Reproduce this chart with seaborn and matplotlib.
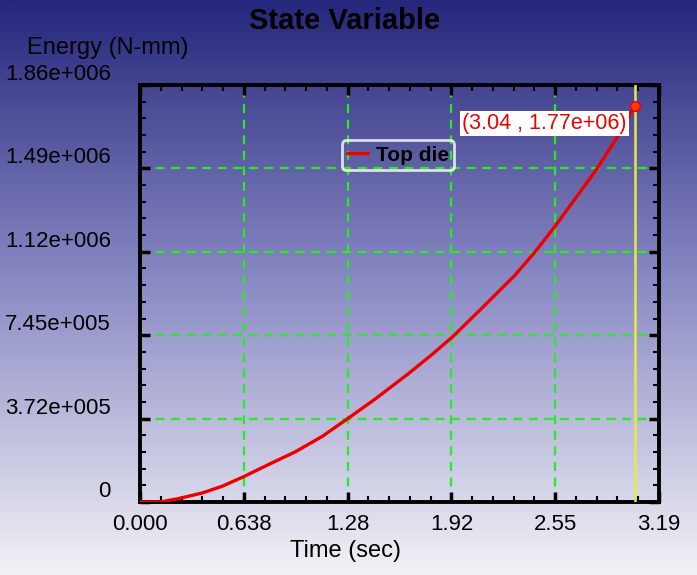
import numpy as np
import matplotlib
matplotlib.use("Agg")
import matplotlib.pyplot as plt
from matplotlib.colors import LinearSegmentedColormap
from matplotlib.ticker import AutoMinorLocator
import seaborn as sns

# --- データ ---
time_sec = [0.0, 0.123, 0.236, 0.381, 0.504, 0.634, 0.792, 0.957, 1.12, 1.276,
            1.44, 1.646, 1.79, 1.92, 2.099, 2.304, 2.428, 2.556, 2.675, 2.809,
            2.901, 2.963, 3.04]
energy = [0.0, 0.0, 15e3, 40e3, 70e3, 112e3, 168e3, 225e3, 293e3, 372e3,
          457e3, 571e3, 656e3, 737e3, 864e3, 1.0125e6, 1.117e6, 1.236e6, 1.355e6, 1.489e6,
          1.593e6, 1.665e6, 1.77e6]
series_name = "Top die"

x_ticks = [0.0, 0.638, 1.276, 1.914, 2.552, 3.19]
x_labels = ["0.000", "0.638", "1.28", "1.92", "2.55", "3.19"]
y_ticks = [0.0, 3.725e5, 7.45e5, 1.1175e6, 1.49e6, 1.8625e6]
y_labels = ["0", "3.72e+005", "7.45e+005", "1.12e+006", "1.49e+006", "1.86e+006"]

probe_t = 3.04
probe_e = 1.77e6
probe_text = "(3.04 , 1.77e+06)"

sns.set_theme(style="ticks")
plt.rcParams['font.family'] = ['Liberation Sans', 'DejaVu Sans']
plt.rcParams['text.color'] = 'black'
plt.rcParams['xtick.color'] = 'black'
plt.rcParams['ytick.color'] = 'black'
plt.rcParams['xtick.labelcolor'] = 'black'
plt.rcParams['ytick.labelcolor'] = 'black'

fig = plt.figure(figsize=(6.97, 5.75), dpi=100)

# 背景グラデーション
bg = fig.add_axes([0, 0, 1, 1], zorder=-10)
grad = np.linspace(1, 0, 256).reshape(-1, 1)
cmap = LinearSegmentedColormap.from_list(
    "bg", [(0.0, "#f2f2f6"), (0.5, "#8c8cc6"), (1.0, "#26267c")])
bg.imshow(grad, aspect="auto", cmap=cmap, extent=[0, 1, 0, 1], origin="upper")
bg.axis("off")

ax = fig.add_axes([140 / 697, 1 - 502 / 575, 519 / 697, 417 / 575])
ax.patch.set_alpha(0)

sns.lineplot(x=time_sec, y=energy, ax=ax, color="#ee0000", linewidth=2.4,
             label=series_name, zorder=4)

ax.axvline(probe_t, color="#e8e84a", linewidth=1.8, zorder=3)
ax.plot(probe_t, probe_e, "o", ms=7, mfc="#ff3a10", mec="#ee0000", zorder=6)
ax.annotate(probe_text, xy=(probe_t, probe_e), xytext=(-8, -7),
            textcoords="offset pixels", ha="right", va="top",
            fontsize=15.5, color="#ee0000",
            bbox=dict(boxstyle="square,pad=0.1", fc="white", ec="none"),
            zorder=7)

ax.set_xlim(0, 3.19)
ax.set_ylim(0, 1.8625e6)
ax.set_xticks(x_ticks)
ax.set_xticklabels(x_labels, fontsize=16)
ax.set_yticks(y_ticks)
ax.set_yticklabels(y_labels, fontsize=16)
for lab in ax.get_yticklabels():
    lab.set_va("bottom")
ax.xaxis.set_minor_locator(AutoMinorLocator(5))
ax.yaxis.set_minor_locator(AutoMinorLocator(5))
ax.tick_params(which="both", direction="in", top=True, right=True, color="black")
ax.tick_params(which="major", length=7, width=2.5)
ax.tick_params(which="minor", length=4, width=1.5)
ax.tick_params(axis="y", which="major", pad=21)
ax.tick_params(axis="x", which="major", pad=9)
ax.set_xlabel("")
ax.set_ylabel("")

for sp in ax.spines.values():
    sp.set_color("black")
    sp.set_linewidth(2.8)

ax.grid(True, which="major", color="#22ee22", linestyle=(0, (4, 3)), linewidth=1.6)
ax.set_axisbelow(True)

leg = ax.legend(loc="center", bbox_to_anchor=(0.497, 0.832), frameon=True,
                fancybox=True, prop={"size": 15, "weight": "bold"},
                handlelength=1.0, handletextpad=0.4, borderpad=0.25)
leg.get_frame().set_facecolor("none")
leg.get_frame().set_edgecolor("white")
leg.get_frame().set_linewidth(2)
for t in leg.get_texts():
    t.set_color("black")

fig.text(345 / 697, 1 - 21 / 575, "State Variable", ha="center", va="center",
         fontsize=21, fontweight="bold")
fig.text(27 / 697, 1 - 48 / 575, "Energy (N-mm)", ha="left", va="center", fontsize=17)
fig.text(345 / 697, 1 - 551 / 575, "Time (sec)", ha="center", va="center", fontsize=17)

fig.savefig("out.png", dpi=100)
plt.close(fig)
